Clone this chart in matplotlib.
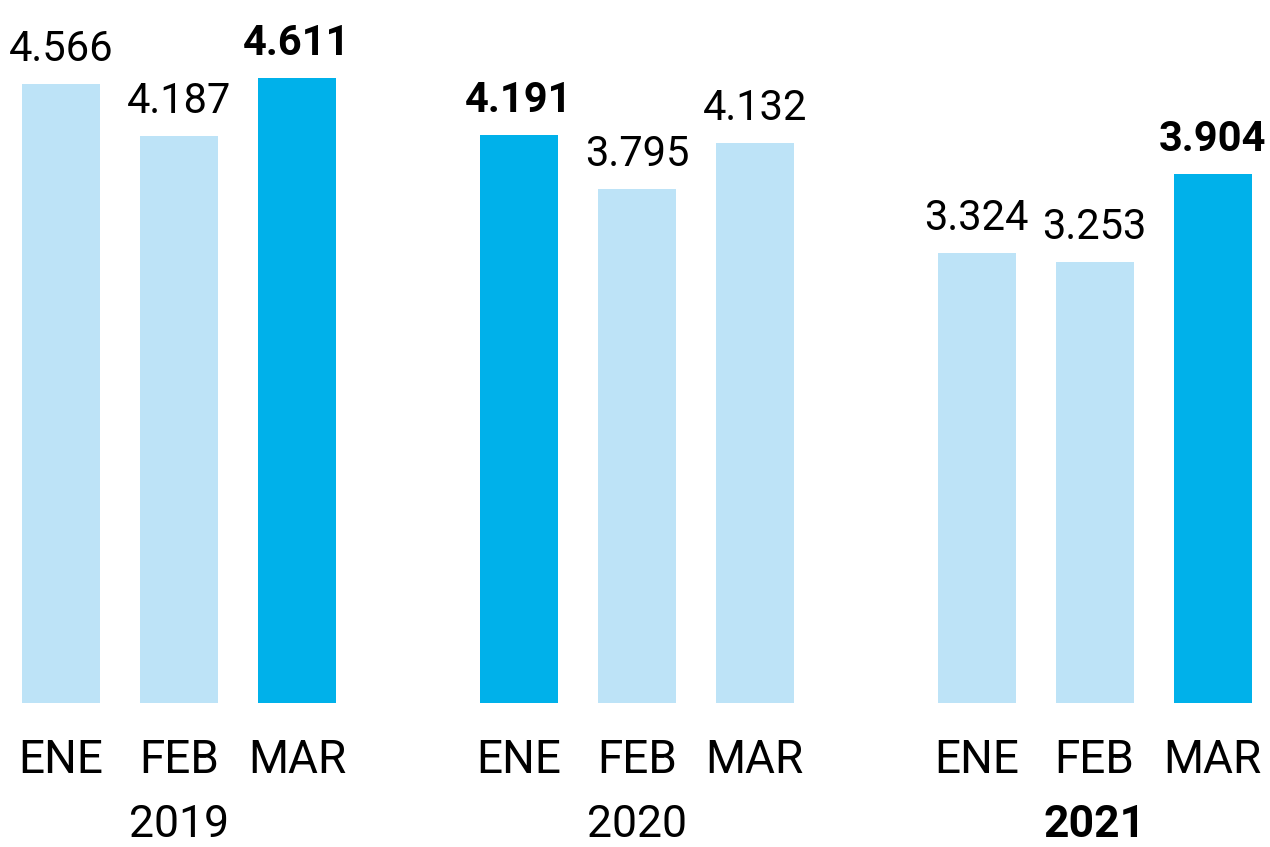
import matplotlib.pyplot as plt
import numpy as np

years = ["2019", "2020", "2021"]
months = ["ENE", "FEB", "MAR"]
values = [
    [4566, 4187, 4611],
    [4191, 3795, 4132],
    [3324, 3253, 3904],
]
value_labels = [
    ["4.566", "4.187", "4.611"],
    ["4.191", "3.795", "4.132"],
    ["3.324", "3.253", "3.904"],
]
highlight = [2, 0, 2]      # index of the dark bar in each year
bold_year = 2

light = "#bde3f7"
dark = "#00b1ea"
fam = ["Roboto", "DejaVu Sans"]

fig = plt.figure(figsize=(12.7, 8.47), dpi=100)
ax = fig.add_axes([0, 0, 1, 1])

group_step = 3.88
for g, yr in enumerate(years):
    xs = g * group_step + np.arange(3)
    cols = [dark if m == highlight[g] else light for m in range(3)]
    ax.bar(xs, values[g], width=0.66, color=cols)
    for m in range(3):
        w = "bold" if m == highlight[g] else "normal"
        ax.text(xs[m], values[g][m] + 170, value_labels[g][m], ha="center", va="baseline",
                fontsize=30, fontweight=w, family=fam)
        ax.text(xs[m], -517, months[m], ha="center", va="baseline", fontsize=33, family=fam)
    ax.text(xs[1], -990, yr, ha="center", va="baseline", fontsize=32,
            fontweight="bold" if g == bold_year else "normal", family=fam)

ax.set_xlim(-0.517, 1270 / 118 - 0.517)
ax.set_ylim(-1063, 5188)
ax.axis("off")

fig.savefig("out.png", dpi=100)
